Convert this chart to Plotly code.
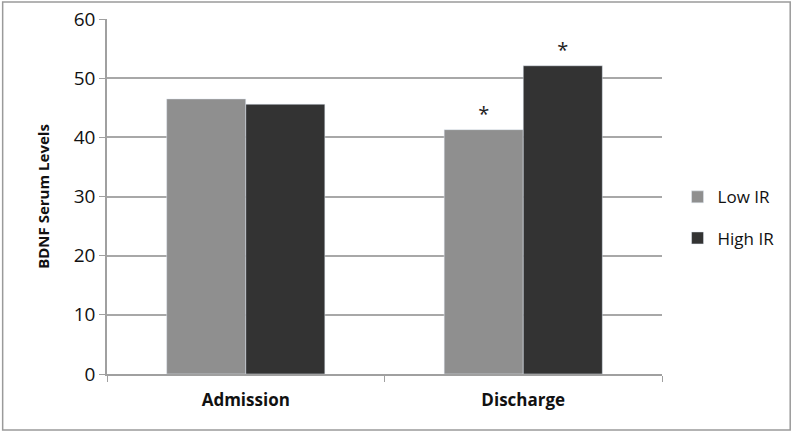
import plotly.graph_objects as go

categories = ["Admission", "Discharge"]
low_ir = [46.5, 41.3]
high_ir = [45.6, 52.1]
low_sig = ["", "*"]
high_sig = ["", "*"]

fig = go.Figure()
fig.add_trace(go.Bar(name="Low IR", x=categories, y=low_ir, marker_color="#8f8f8f",
                     legendgroup="low", text=low_sig, textposition="outside",
                     textfont=dict(size=20, color="#222222")))
fig.add_trace(go.Bar(name="High IR", x=categories, y=high_ir, marker_color="#333333",
                     legendgroup="high", text=high_sig, textposition="outside",
                     textfont=dict(size=20, color="#222222")))

fig.update_layout(
    width=793, height=433,
    margin=dict(l=107, r=131, t=19, b=59, autoexpand=False),
    barmode="group", bargap=0.43, bargroupgap=0,
    plot_bgcolor="white", paper_bgcolor="white",
    font=dict(family="Open Sans, Liberation Sans, sans-serif", size=16, color="#111111"),
    showlegend=True,
    legend=dict(x=1.028, y=0.44, xanchor="left", yanchor="middle",
                font=dict(size=17), itemwidth=30, tracegroupgap=16,
                traceorder="grouped", bgcolor="rgba(0,0,0,0)"),
    shapes=[dict(type="rect", xref="paper", yref="paper",
                 x0=-0.188, x1=1.231, y0=-0.158, y1=1.048,
                 line=dict(color="#9a9a9a", width=1.5))],
)
fig.update_xaxes(showline=True, linecolor="#a0a0a0", linewidth=1.5, automargin=False,
                 ticks="outside", tickson="boundaries", ticklen=6, tickcolor="#a0a0a0",
                 ticklabelstandoff=10,
                 tickfont=dict(size=17, family="Open Sans, sans-serif", weight="bold"))
fig.update_yaxes(range=[0, 60], dtick=10, showgrid=True, gridcolor="#a8a8a8", gridwidth=1.5,
                 showline=True, linecolor="#a0a0a0", linewidth=1.5, automargin=False,
                 ticks="outside", ticklen=6, tickcolor="#a0a0a0", zeroline=False,
                 tickfont=dict(size=19),
                 title=dict(text="<b>BDNF Serum Levels</b>", font=dict(size=15), standoff=20))

# page body has a default margin, drop it so the figure sits at 0,0
fig.write_html("out.html", config={"displayModeBar": False},
               post_script="document.body.style.margin='0';")
